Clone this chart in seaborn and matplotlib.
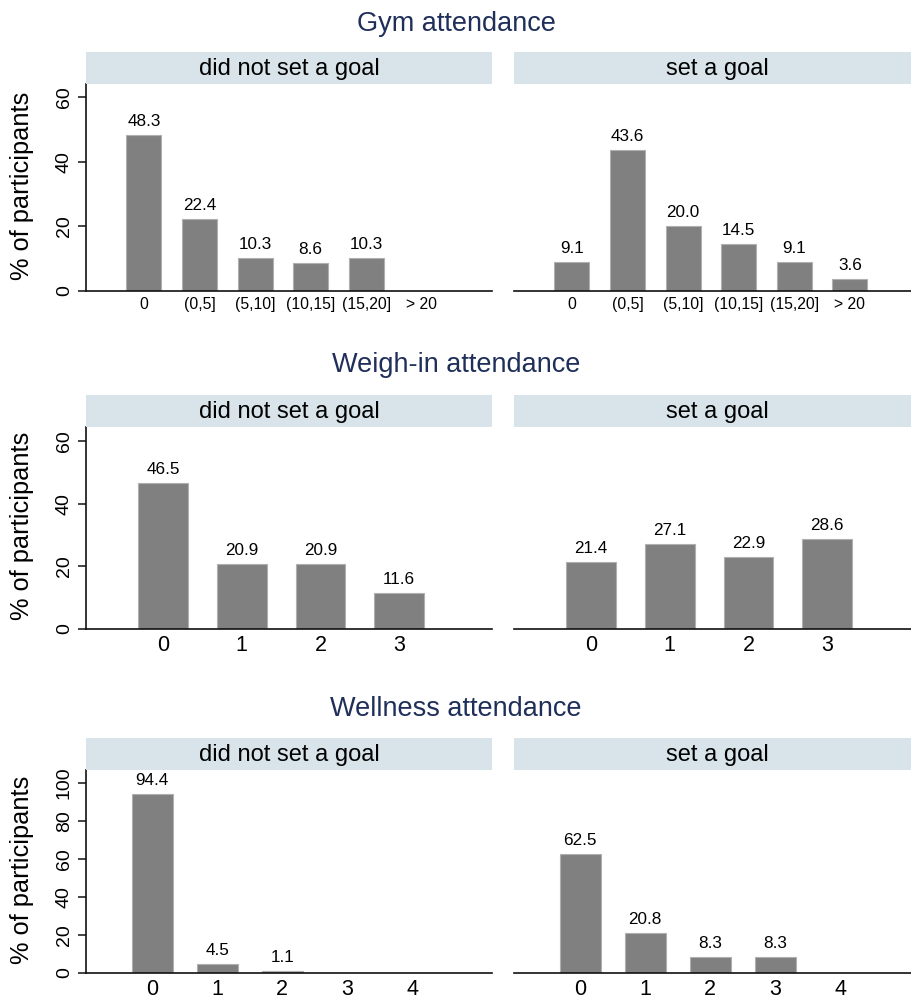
import matplotlib
matplotlib.use("Agg")
import matplotlib.pyplot as plt
from matplotlib.patches import Rectangle
import seaborn as sns
import pandas as pd

# ---- data ----
gym_cats = ["0", "(0,5]", "(5,10]", "(10,15]", "(15,20]", "> 20"]
gym_no_goal = [48.3, 22.4, 10.3, 8.6, 10.3, 0.0]
gym_goal = [9.1, 43.6, 20.0, 14.5, 9.1, 3.6]

weigh_cats = ["0", "1", "2", "3"]
weigh_no_goal = [46.5, 20.9, 20.9, 11.6]
weigh_goal = [21.4, 27.1, 22.9, 28.6]

well_cats = ["0", "1", "2", "3", "4"]
well_no_goal = [94.4, 4.5, 1.1, 0.0, 0.0]
well_goal = [62.5, 20.8, 8.3, 8.3, 0.0]

row_titles = ["Gym attendance", "Weigh-in attendance", "Wellness attendance"]
panel_titles = ["did not set a goal", "set a goal"]
y_label = "% of participants"

sns.set_style("white")
plt.rcParams["font.family"] = ["Liberation Sans", "DejaVu Sans"]
plt.rcParams["text.color"] = "black"
plt.rcParams["xtick.color"] = "black"
plt.rcParams["ytick.color"] = "black"
plt.rcParams["xtick.labelcolor"] = "black"
plt.rcParams["ytick.labelcolor"] = "black"

W, H = 912, 996
fig = plt.figure(figsize=(W / 100, H / 100), dpi=100)

TITLE_COLOR = "#1f2f5a"
STRIP_COLOR = "#d8e4ea"
BAR_COLOR = "#808080"
AX_COLOR = "#111111"

rows = [
    dict(cats=gym_cats, vals=[gym_no_goal, gym_goal], title_base=31, strip=(52, 84),
         ax_y=(84, 291), ymax=64.1, yticks=[0, 20, 40, 60], xfs=11.3, xpad=4.5, xlim=(-1.04, 6.26)),
    dict(cats=weigh_cats, vals=[weigh_no_goal, weigh_goal], title_base=372, strip=(395, 427),
         ax_y=(427, 629), ymax=64.5, yticks=[0, 20, 40, 60], xfs=15.5, xpad=4.5, xlim=(-0.98, 4.18)),
    dict(cats=well_cats, vals=[well_no_goal, well_goal], title_base=716, strip=(738, 770),
         ax_y=(770, 973), ymax=106.8, yticks=[0, 20, 40, 60, 80, 100], xfs=15.5, xpad=4.0, xlim=(-1.02, 5.23)),
]

col_x = [(86, 492), (514, 920)]

def fx(px):
    return px / W

def fy(py):
    return 1 - py / H

for ri, r in enumerate(rows):
    fig.text(fx(456), fy(r["title_base"]), row_titles[ri], ha="center", va="baseline",
             fontsize=19.5, color=TITLE_COLOR)
    n = len(r["cats"])
    for c in range(2):
        x0, x1 = col_x[c]
        s0, s1 = r["strip"]
        fig.patches.append(Rectangle((fx(x0), fy(s1)), fx(x1 - x0), (s1 - s0) / H,
                                     transform=fig.transFigure, facecolor=STRIP_COLOR,
                                     edgecolor="none", zorder=0))
        fig.text(fx((x0 + x1) / 2), fy((s0 + s1) / 2 + 1), panel_titles[c], ha="center",
                 va="center", fontsize=17, color="black")
        a0, a1 = r["ax_y"]
        ax = fig.add_axes([fx(x0), fy(a1), fx(x1 - x0), (a1 - a0) / H])
        df = pd.DataFrame({"cat": r["cats"], "pct": r["vals"][c]})
        sns.barplot(data=df, x="cat", y="pct", order=r["cats"], color=BAR_COLOR,
                    saturation=1, width=0.63, edgecolor="#b0b0b0", linewidth=0.8, ax=ax)
        for i, v in enumerate(r["vals"][c]):
            if v > 0:
                ax.annotate(f"{v:.1f}", (i, v), xytext=(0, 6.5), textcoords="offset points",
                            ha="center", va="baseline", fontsize=12.3, color="black")
        ax.set_xlim(*r["xlim"])
        ax.set_ylim(0, r["ymax"])
        ax.set_xlabel("")
        ax.set_ylabel("")
        ax.set_xticks(range(n))
        ax.set_xticklabels(r["cats"], fontsize=r["xfs"], color="black")
        ax.set_xticks([n], minor=True)
        ax.tick_params(axis="x", which="major", length=0, pad=r["xpad"], labelcolor="black")
        ax.tick_params(axis="x", which="minor", length=3, width=1, direction="inout", color=AX_COLOR)
        for side in ["top", "right"]:
            ax.spines[side].set_visible(False)
        ax.spines["bottom"].set_color(AX_COLOR)
        ax.spines["bottom"].set_linewidth(1.2)
        ax.patch.set_alpha(0)
        if c == 0:
            ax.spines["left"].set_color(AX_COLOR)
            ax.spines["left"].set_linewidth(1.2)
            ax.set_yticks(r["yticks"])
            ax.set_yticklabels([str(t) for t in r["yticks"]], rotation=90, va="center",
                               fontsize=14, color="black")
            ax.tick_params(axis="y", length=5.5, width=1.1, color=AX_COLOR, pad=4, left=True,
                           labelcolor="black")
            fig.text(fx(22), fy((a0 + a1) / 2 - 2), y_label, rotation=90, ha="center", va="center",
                     fontsize=18.3, color="black")
        else:
            ax.spines["left"].set_visible(False)
            ax.set_yticks([])

fig.savefig("out.png", dpi=100)
